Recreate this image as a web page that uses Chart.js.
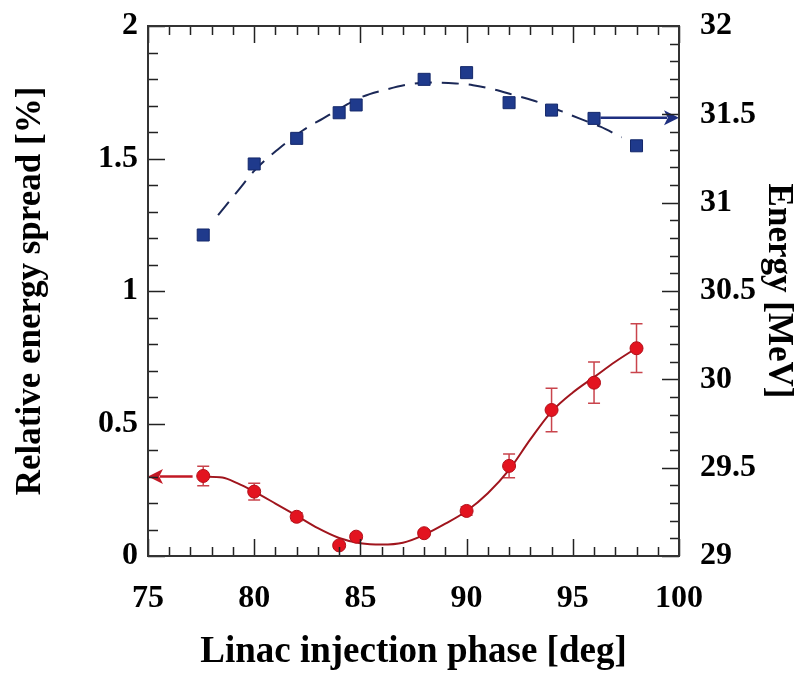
<!DOCTYPE html>
<html>
<head>
<meta charset="utf-8">
<script src="https://cdn.jsdelivr.net/npm/chart.js@4.4.1/dist/chart.umd.min.js"></script>
<style>
  html, body { margin: 0; padding: 0; background: #ffffff; }
  #wrap { width: 811px; height: 675px; }
</style>
</head>
<body>
<div id="wrap"><canvas id="c" width="811" height="675"></canvas></div>
<script>
// ---- data ----
const phase      = [77.6, 80, 82, 84, 84.8, 88, 90, 92, 94, 96, 98];
const spread     = [0.302, 0.243, 0.148, 0.040, 0.073, 0.086, 0.170, 0.340, 0.551, 0.654, 0.784];
const spreadErr  = [0.037, 0.032, 0.015, 0.008, 0.010, 0.010, 0.016, 0.045, 0.082, 0.078, 0.092];
const energy     = [30.817, 31.219, 31.364, 31.509, 31.553, 31.698, 31.736, 31.566, 31.524, 31.477, 31.322];

const fitSpreadPhase = [77.6, 78.5, 79.2, 80, 81, 82, 83, 84, 85, 86, 87, 88, 89, 90, 91, 92, 93, 94, 95, 96, 97, 98];
const fitSpread      = [0.300, 0.296, 0.275, 0.243, 0.198, 0.152, 0.105, 0.068, 0.048, 0.043, 0.050, 0.080, 0.122, 0.170, 0.237, 0.325, 0.440, 0.545, 0.617, 0.675, 0.733, 0.785];

const fitEnergyPhase = [78.3, 79.25, 80, 81.1, 82.3, 83.25, 84, 85.1, 86.2, 87.3, 88.5, 89.5, 90.3, 91.3, 92.2, 93.1, 94.0, 94.7, 95.3, 96.3, 97.3];
const fitEnergy      = [30.93, 31.07, 31.18, 31.30, 31.41, 31.477, 31.53, 31.60, 31.64, 31.67, 31.68, 31.675, 31.665, 31.64, 31.61, 31.58, 31.54, 31.506, 31.477, 31.43, 31.37];

// arrows: [fromX, toX, yValue]
const spreadArrow = [77.1, 75, 0.30];
const energyArrow = [96.3, 100, 31.48];

const xTickValues   = [75, 80, 85, 90, 95, 100];
const xTickLabels   = ['75', '80', '85', '90', '95', '100'];
const yTickValues   = [0, 0.5, 1, 1.5, 2];
const yTickLabels   = ['0', '0.5', '1', '1.5', '2'];
const y2TickValues  = [29, 29.5, 30, 30.5, 31, 31.5, 32];
const y2TickLabels  = ['29', '29.5', '30', '30.5', '31', '31.5', '32'];

const xTitle  = 'Linac injection phase [deg]';
const yTitle  = 'Relative energy spread [%]';
const y2Title = 'Energy [MeV]';

// ---- styling ----
const FONT = "'Liberation Serif', 'Times New Roman', serif";
const tickFont  = { family: FONT, size: 32, weight: 'bold' };
const vTickFont = { family: FONT, size: 32, weight: 'bold', lineHeight: 0.25 };
const RED = '#e3131f', RED_EDGE = '#b20f19', RED_LINE = '#a0151d', RED_ERR = '#c9444c';
const BLUE = '#1f3a8c', BLUE_EDGE = '#14286a', BLUE_LINE = '#1b2857';

function pts(xs, ys) { return xs.map((x, i) => ({ x: x, y: ys[i] })); }

function setTicks(values) {
  return function (scale) { scale.ticks = values.map(v => ({ value: v })); };
}
function labelFrom(values, labels) {
  return function (v) { const i = values.indexOf(v); return i >= 0 ? labels[i] : ''; };
}

// error bars plugin
const errorBars = {
  id: 'errorBars',
  beforeDatasetsDraw(chart) {
    const xs = chart.scales.x, ys = chart.scales.y, ctx = chart.ctx;
    ctx.save();
    ctx.strokeStyle = RED_ERR;
    ctx.lineWidth = 1.5;
    phase.forEach((p, i) => {
      const px = xs.getPixelForValue(p);
      const top = ys.getPixelForValue(spread[i] + spreadErr[i]);
      const bot = ys.getPixelForValue(spread[i] - spreadErr[i]);
      ctx.beginPath();
      ctx.moveTo(px, top); ctx.lineTo(px, bot);
      ctx.moveTo(px - 6, top); ctx.lineTo(px + 6, top);
      ctx.moveTo(px - 6, bot); ctx.lineTo(px + 6, bot);
      ctx.stroke();
    });
    ctx.restore();
  }
};

// arrows plugin
function drawArrow(ctx, x0, x1, y, color) {
  const dir = x1 > x0 ? 1 : -1;
  const headLen = 15, headHalf = 7.5;
  ctx.save();
  ctx.strokeStyle = color; ctx.fillStyle = color; ctx.lineWidth = 2.5;
  ctx.beginPath();
  ctx.moveTo(x0, y); ctx.lineTo(x1 - dir * headLen * 0.8, y);
  ctx.stroke();
  ctx.beginPath();
  ctx.moveTo(x1, y);
  ctx.lineTo(x1 - dir * headLen, y - headHalf);
  ctx.lineTo(x1 - dir * headLen * 0.75, y);
  ctx.lineTo(x1 - dir * headLen, y + headHalf);
  ctx.closePath();
  ctx.fill();
  ctx.restore();
}
const arrows = {
  id: 'arrows',
  afterDatasetsDraw(chart) {
    const xs = chart.scales.x, ys = chart.scales.y, y2 = chart.scales.y2, ctx = chart.ctx;
    drawArrow(ctx, xs.getPixelForValue(spreadArrow[0]), xs.getPixelForValue(spreadArrow[1]), ys.getPixelForValue(spreadArrow[2]), '#c21824');
    drawArrow(ctx, xs.getPixelForValue(energyArrow[0]), xs.getPixelForValue(energyArrow[1]), y2.getPixelForValue(energyArrow[2]), '#1e2f80');
  }
};

// frame + inward ticks
const frame = {
  id: 'frame',
  afterDraw(chart) {
    const a = chart.chartArea, ctx = chart.ctx;
    const xs = chart.scales.x, ys = chart.scales.y, y2 = chart.scales.y2;
    ctx.save();
    ctx.strokeStyle = '#222';
    ctx.lineWidth = 1.5;
    ctx.beginPath();
    for (let v = 75; v <= 100; v += 1) {
      const px = Math.round(xs.getPixelForValue(v)) + 0.5;
      const len = (v % 5 === 0) ? 17 : 9;
      ctx.moveTo(px, a.bottom); ctx.lineTo(px, a.bottom - len);
      ctx.moveTo(px, a.top); ctx.lineTo(px, a.top + len);
    }
    for (let k = 0; k <= 20; k++) {
      const py = Math.round(ys.getPixelForValue(k / 10)) + 0.5;
      const len = (k % 5 === 0) ? 17 : 10;
      ctx.moveTo(a.left, py); ctx.lineTo(a.left + len, py);
    }
    for (let k = 0; k <= 30; k++) {
      const py = Math.round(y2.getPixelForValue(29 + k / 10)) + 0.5;
      const len = (k % 5 === 0) ? 17 : 9;
      ctx.moveTo(a.right, py); ctx.lineTo(a.right - len, py);
    }
    ctx.stroke();
    ctx.lineWidth = 2;
    ctx.strokeStyle = '#333';
    ctx.strokeRect(a.left, a.top, a.right - a.left, a.bottom - a.top);
    ctx.restore();
  }
};

new Chart(document.getElementById('c'), {
  type: 'scatter',
  data: {
    datasets: [
      { label: 'spread fit', data: pts(fitSpreadPhase, fitSpread), yAxisID: 'y', showLine: true,
        borderColor: RED_LINE, borderWidth: 2, pointRadius: 0, cubicInterpolationMode: 'monotone', order: 3 },
      { label: 'energy fit', data: pts(fitEnergyPhase, fitEnergy), yAxisID: 'y2', showLine: true,
        borderColor: BLUE_LINE, borderWidth: 2, borderDash: [17, 10], pointRadius: 0, cubicInterpolationMode: 'monotone', order: 3 },
      { label: 'spread', data: pts(phase, spread), yAxisID: 'y', pointStyle: 'circle', pointRadius: 6.5,
        backgroundColor: RED, borderColor: RED_EDGE, borderWidth: 1, order: 1 },
      { label: 'energy', data: pts(phase, energy), yAxisID: 'y2', pointStyle: 'rect', pointRadius: 8.5,
        backgroundColor: BLUE, borderColor: BLUE_EDGE, borderWidth: 1, order: 1 }
    ]
  },
  options: {
    responsive: false,
    animation: false,
    layout: { padding: { top: 26, left: 0, right: 0, bottom: 0 } },
    plugins: { legend: { display: false }, tooltip: { enabled: false } },
    scales: {
      x: {
        type: 'linear', position: 'bottom', min: 75, max: 100,
        afterBuildTicks: setTicks(xTickValues),
        ticks: { font: tickFont, color: '#000', padding: 24, maxRotation: 0, callback: labelFrom(xTickValues, xTickLabels) },
        grid: { display: false, drawTicks: false },
        border: { display: false },
        title: { display: true, text: xTitle, color: '#000', font: { family: FONT, size: 37, weight: 'bold' }, padding: { top: 0, bottom: 0 } },
        afterFit(s) { s.height = 119; }
      },
      y: {
        type: 'linear', position: 'left', min: 0, max: 2,
        afterBuildTicks: setTicks(yTickValues),
        ticks: { font: vTickFont, color: '#000', padding: 10, callback: labelFrom(yTickValues, yTickLabels) },
        grid: { display: false, drawTicks: false },
        border: { display: false },
        title: { display: true, text: yTitle, color: '#000', font: { family: FONT, size: 35, weight: 'bold' }, padding: { top: 10, bottom: 0 } },
        afterFit(s) { s.width = 148; }
      },
      y2: {
        type: 'linear', position: 'right', min: 29, max: 32,
        afterBuildTicks: setTicks(y2TickValues),
        ticks: { font: vTickFont, color: '#000', padding: 21, callback: labelFrom(y2TickValues, y2TickLabels) },
        grid: { display: false, drawTicks: false },
        border: { display: false },
        title: { display: true, text: y2Title, color: '#000', font: { family: FONT, size: 35, weight: 'bold' }, padding: { top: 12, bottom: 0 } },
        afterFit(s) { s.width = 132; }
      }
    }
  },
  plugins: [errorBars, arrows, frame]
});
</script>
</body>
</html>
